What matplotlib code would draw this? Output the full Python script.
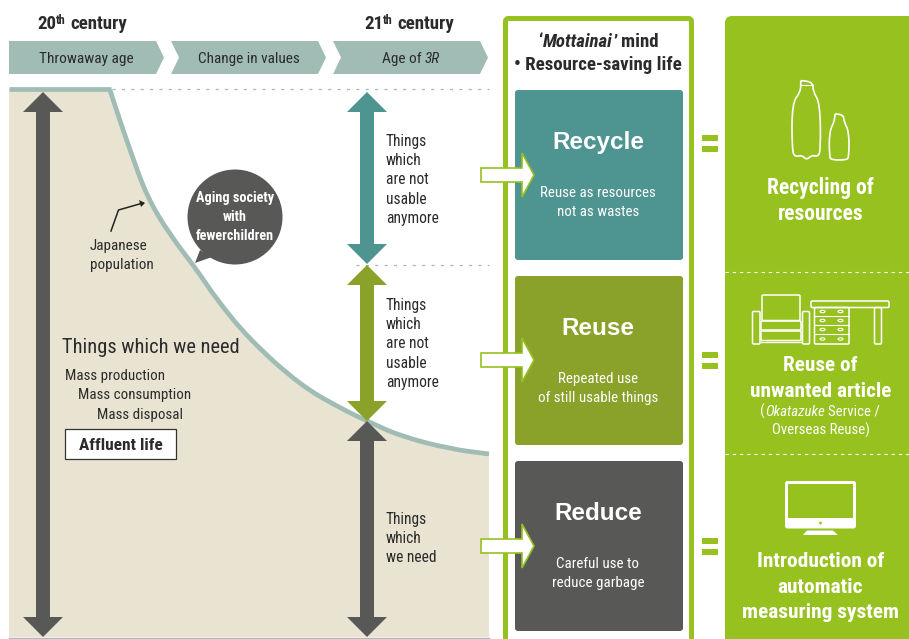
import matplotlib.pyplot as plt
from matplotlib.patches import Polygon, FancyBboxPatch, Circle, PathPatch, Rectangle, Ellipse
from matplotlib.path import Path

plt.rcParams['font.family'] = ['Roboto Condensed', 'Liberation Sans', 'DejaVu Sans']

TEAL_LIGHT = '#a0bcb5'
BEIGE = '#e9e4d2'
DARK = '#585857'
TEAL = '#4e9490'
OLIVE = '#8aa12a'
GREEN = '#96c11f'
TXT = '#2b2b2b'

# header bands
stage_x = [9, 171, 333]

# population curve
curve_x = [110, 118, 130, 147, 170, 197, 217, 250, 300, 340, 367, 400, 450, 489]
curve_y = [90, 115, 150, 197, 235, 270, 300, 340, 385, 408, 421, 436, 449, 454]

# double arrows: x, top, bottom, colour
arrow_x = [43, 367, 367, 367]
arrow_top = [92, 92, 265, 421]
arrow_bot = [637, 264, 421, 637]
arrow_col = [DARK, TEAL, OLIVE, DARK]

# 3R boxes
box_titles = ['Recycle', 'Reuse', 'Reduce']
box_notes = [['Reuse as resources', 'not as wastes'], ['Repeated use', 'of still usable things'],
             ['Careful use to', 'reduce garbage']]
box_top = [90, 276, 461]
box_bot = [260, 445, 631]
box_col = [TEAL, OLIVE, DARK]

equal_y = [143, 360, 546]

fig = plt.figure(figsize=(9.09, 6.39), dpi=100)
ax = fig.add_axes([0, 0, 1, 1])
ax.set_xlim(0, 909)
ax.set_ylim(639, 0)
ax.axis('off')
renderer = fig.canvas.get_renderer()


def smooth_path(xs, ys):
    pts = list(zip(xs, ys))
    verts = [pts[0]]
    codes = [Path.MOVETO]
    for i in range(1, len(pts) - 1):
        mid = ((pts[i][0] + pts[i + 1][0]) / 2, (pts[i][1] + pts[i + 1][1]) / 2)
        verts += [pts[i], mid]
        codes += [Path.CURVE3, Path.CURVE3]
    verts.append(pts[-1])
    codes.append(Path.LINETO)
    return verts, codes


def double_arrow(x, top, bot, col, z=4):
    hw = 20
    sw = 7
    hl = 20
    ax.add_patch(Polygon([(x, top), (x + hw, top + hl), (x + sw, top + hl), (x + sw, bot - hl),
                          (x + hw, bot - hl), (x, bot), (x - hw, bot - hl), (x - sw, bot - hl),
                          (x - sw, top + hl), (x - hw, top + hl)], closed=True, fc=col, ec='none', zorder=z))


def white_arrow(x, y):
    ax.add_patch(Polygon([(x, y - 7), (x + 41, y - 7), (x + 41, y - 22), (x + 53, y),
                          (x + 41, y + 22), (x + 41, y + 7), (x, y + 7)], closed=True,
                         fc='white', ec=GREEN, lw=1.2, zorder=8))


def baseline(y, size):
    return y + size * 100 / 72 * 0.32


def lines(x, y, pitch, rows, size=11, col=TXT, ha='left', weight='normal', **kw):
    for i, row in enumerate(rows):
        ax.text(x, baseline(y + i * pitch, size), row, fontsize=size, color=col, ha=ha, va='baseline',
                fontweight=weight, zorder=10, **kw)


def runs(cx, y, parts, size=11, col=TXT, weight='normal'):
    # mixed styles on one centred line: (text, style, scale, rise), gap before a text with a leading space
    gap = size * 100 / 72 * 0.22
    made = []
    total = 0
    base = baseline(y, size)
    for s, style, scale, rise in parts:
        t = ax.text(0, base - rise, s.strip(), fontsize=size * scale, color=col, va='baseline', fontweight=weight,
                    fontstyle=style, zorder=10)
        lead = gap if s.startswith(' ') else 0
        w = t.get_window_extent(renderer).width + lead
        made.append((t, w, lead))
        total += w
    x = cx - total / 2
    for t, w, lead in made:
        t.set_x(x + lead)
        x += w


# titles
runs(82, 23, [('20', 'normal', 1, 0), ('th', 'normal', 0.65, 5), (' century', 'normal', 1, 0)], 13.6, weight='bold')
runs(409, 23, [('21', 'normal', 1, 0), ('th', 'normal', 0.65, 5), (' century', 'normal', 1, 0)], 13.6, weight='bold')

# header chevrons
for x0 in stage_x:
    notch = 0 if x0 == 9 else 8
    ax.add_patch(Polygon([(x0, 41), (x0 + 147, 41), (x0 + 155, 57.5), (x0 + 147, 74),
                          (x0, 74), (x0 + notch, 57.5)], closed=True, fc=TEAL_LIGHT, ec='none'))
runs(86.5, 58, [('Throwaway age', 'normal', 1, 0)], 11.1)
runs(248.5, 58, [('Change in values', 'normal', 1, 0)], 11)
runs(411, 58, [('Age of', 'normal', 1, 0), (' 3R', 'italic', 1, 0)], 11)

# beige area and curve
verts, codes = smooth_path(curve_x, curve_y)
area_v = [(9, 89), (110, 89)] + verts[1:] + [(489, 637), (9, 637), (9, 89)]
area_c = [Path.MOVETO, Path.LINETO] + codes[1:] + [Path.LINETO, Path.LINETO, Path.CLOSEPOLY]
ax.add_patch(PathPatch(Path(area_v, area_c), fc=BEIGE, ec='none', zorder=1))
ax.add_patch(PathPatch(Path(verts, codes), fc='none', ec=TEAL_LIGHT, lw=3.4, zorder=2))
ax.plot([9, 111], [89, 89], color=TEAL_LIGHT, lw=3.4, zorder=2, solid_capstyle='butt')
ax.plot([9, 489], [638, 638], color=TEAL_LIGHT, lw=1, zorder=2)

# dotted guide lines
ax.plot([112, 489], [89, 89], color=TEAL_LIGHT, lw=0.9, dashes=(2.5, 5), zorder=2)
ax.plot([356, 489], [264.5, 264.5], color=TEAL_LIGHT, lw=0.9, dashes=(2.5, 5), zorder=2)

for x, t, b, c in zip(arrow_x, arrow_top, arrow_bot, arrow_col):
    double_arrow(x, t, b, c)

# left panel text
lines(90, 245, 19, ['Japanese', 'population'], 10.9)
ax.plot([111, 118.5, 143], [231, 210, 203], color='#222222', lw=1.1, zorder=6)
ax.add_patch(Polygon([(145, 203), (139, 200), (141, 207)], closed=True, fc='#222222', ec='none', zorder=6))

ax.add_patch(Circle((235, 217), 47.5, fc=DARK, ec='none', zorder=6))
ax.add_patch(Polygon([(200, 250), (195, 263), (212, 257)], closed=True, fc=DARK, ec='none', zorder=6))
lines(235, 197, 19, ['Aging society', 'with', 'fewerchildren'], 10.3, 'white', ha='center', weight='bold')

lines(62, 346, 0, ['Things which we need'], 14.7)
lines(65, 375, 0, ['Mass production'], 10.8)
lines(78, 394, 0, ['Mass consumption'], 10.8)
lines(97, 414, 0, ['Mass disposal'], 10.8)
ax.add_patch(Rectangle((65, 429), 111, 30, fc='white', ec='#333333', lw=0.9, zorder=6))
lines(120.5, 444, 0, ['Affluent life'], 12.4, ha='center', weight='bold')

# things column
not_usable = ['Things', 'which', 'are not', 'usable', 'anymore']
lines(386, 141, 19.2, not_usable, 11.2)
lines(386, 305, 19.2, not_usable, 11.2)
lines(386, 519, 19, ['Things', 'which', 'we need'], 11.2)

# middle frame
ax.add_patch(FancyBboxPatch((505.5, 18.5), 186, 640, boxstyle='round,pad=0,rounding_size=3',
                            fc='white', ec=GREEN, lw=3.6, zorder=3))
runs(599, 41, [('\u2018', 'normal', 1, 0), ('Mottainai', 'italic', 1, 0), ('\u2019', 'normal', 1, 0),
               (' mind', 'normal', 1, 0)], 13.6, weight='bold')
lines(598, 64, 0, ['\u2022 Resource-saving life'], 13.6, ha='center', weight='bold')

for t, b, c, title, note in zip(box_top, box_bot, box_col, box_titles, box_notes):
    ax.add_patch(FancyBboxPatch((515, t), 168, b - t, boxstyle='round,pad=0,rounding_size=3',
                                fc=c, ec='none', zorder=5))
    lines(598, t + 51.5, 0, [title], 17.5, 'white', ha='center', weight='bold',
          family=['Liberation Sans', 'DejaVu Sans'])
    lines(598, t + 102, 19, note, 10.8, 'white', ha='center')

for y in [175, 360, 546]:
    white_arrow(481, y)

# right panel
ax.add_patch(FancyBboxPatch((725, 16), 200, 640, boxstyle='round,pad=0,rounding_size=7',
                            fc=GREEN, ec='none', zorder=3))
ax.plot([725, 909], [271.5, 271.5], color='white', lw=0.8, dashes=(3, 3.5), zorder=5)
ax.plot([725, 909], [453.5, 453.5], color='white', lw=0.8, dashes=(3, 3.5), zorder=5)

for y in equal_y:
    ax.add_patch(Rectangle((701.5, y - 8), 16.5, 6, fc=GREEN, ec='none', zorder=5))
    ax.add_patch(Rectangle((701.5, y + 3), 16.5, 6, fc=GREEN, ec='none', zorder=5))

lines(820.5, 187, 26, ['Recycling of', 'resources'], 15.5, 'white', ha='center', weight='bold')
lines(820.5, 364, 26, ['Reuse of', 'unwanted article'], 15.3, 'white', ha='center', weight='bold')
runs(820, 411, [('(', 'normal', 1, 0), ('Okatazuke', 'italic', 1, 0), (' Service /', 'normal', 1, 0)], 10.7, 'white')
lines(820.5, 430, 0, ['Overseas Reuse)'], 10.6, 'white', ha='center')
lines(820.5, 560, 25.7, ['Introduction of', 'automatic', 'measuring system'], 15.4, 'white', ha='center', weight='bold')


# icons
def bottle(xs, ys):
    v, c = smooth_path(xs + xs[:1], ys + ys[:1])
    ax.add_patch(PathPatch(Path(v, c), fc='none', ec='white', lw=1.2, zorder=7))


bottle([800.7, 812.7, 813, 820, 820.7, 818, 811.7, 806.7, 801.7, 795, 792, 792, 800.7],
       [80.7, 80.7, 91.7, 103, 150, 156.7, 155, 160, 155, 157, 150, 103, 91.7])
ax.plot([801, 813], [85, 85], color='white', lw=0.8, zorder=7)
bottle([835, 843.3, 844, 849, 849, 846.7, 831.7, 829.3, 829.3, 834.3],
       [114, 114, 121.7, 131.7, 156.7, 160, 160, 156.7, 131.7, 121.7])


def rbox(x, y, w, h):
    ax.add_patch(FancyBboxPatch((x, y), w, h, boxstyle='round,pad=0,rounding_size=1.2',
                                fc='none', ec='white', lw=1.1, zorder=7))


# armchair
rbox(762, 295, 38, 25.5)
rbox(752.5, 311.5, 7.5, 32.5)
rbox(802.5, 311.5, 7, 32.5)
rbox(761, 321, 40, 9)
rbox(761, 331, 40, 9.5)
ax.plot([761, 801], [342, 342], color='white', lw=1, zorder=7)
# desk
rbox(811, 301, 78, 6.5)
rbox(814.5, 307.5, 34.5, 36.5)
rbox(874.5, 307.5, 7, 36.5)
for yy in [316, 325, 334]:
    ax.plot([814.5, 849], [yy, yy], color='white', lw=0.8, zorder=7)
for yy in [311.5, 320.5, 329.5, 339]:
    ax.add_patch(Ellipse((822.5, yy), 5, 2.4, fc='none', ec='white', lw=0.8, zorder=7))
    ax.add_patch(Ellipse((840.5, yy), 5, 2.4, fc='none', ec='white', lw=0.8, zorder=7))

# monitor
ax.add_patch(FancyBboxPatch((785, 481), 71, 47.5, boxstyle='round,pad=0,rounding_size=2.5',
                            fc='white', ec='none', zorder=7))
ax.add_patch(Rectangle((787.7, 483.5), 65.6, 34.5, fc=GREEN, ec='none', zorder=8))
ax.add_patch(Circle((820.5, 523), 1.4, fc=GREEN, ec='none', zorder=8))
ax.add_patch(Polygon([(803, 535), (838, 535), (833, 530.5), (807, 530.5)], closed=True, fc='white', ec='none', zorder=7))

fig.savefig('out.png', dpi=100, facecolor='white')
